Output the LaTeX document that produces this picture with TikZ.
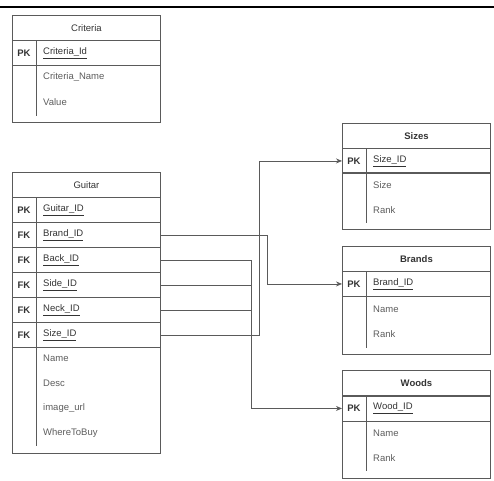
\documentclass[tikz,border=0pt]{standalone}
\usepackage{fontspec}
\setmainfont{Liberation Sans}
\usetikzlibrary{arrows.meta}
\definecolor{linegray}{HTML}{5A5A5A}
\definecolor{textgray}{HTML}{333333}
\definecolor{fieldgray}{HTML}{5C5C5C}

\begin{document}
\begin{tikzpicture}[x=1pt, y=-1pt, font=\fontsize{9.5}{11}\selectfont,
	tblhead/.style={draw=linegray, line width=.9pt, minimum width=148pt, minimum height=25pt, inner sep=0pt, anchor=north west, text=textgray},
	keyrow/.style={tblhead},
	tblbody/.style={draw=linegray, line width=.9pt, minimum width=148pt, inner sep=0pt, anchor=north west},
	keytext/.style={font=\fontsize{9.5}{11}\selectfont\bfseries, text=textgray, inner sep=0pt},
	keyname/.style={anchor=west, text=textgray, inner sep=0pt},
	field/.style={anchor=west, text=fieldgray, inner sep=0pt},
	fk/.style={draw=linegray, line width=.8pt},
	ref/.style={fk, -{Stealth[length=6pt,width=5pt]}}
	]
	\useasboundingbox (0,0) rectangle (494,480);
	%top rule
	\draw[line width=1.5pt] (0,7) -- (494,7);
	
	%Criteria
	\node[tblhead] (criteria-head) at (12,15) {Criteria};
	\node[keyrow] (criteria-pk) at (12,40) {};
	\node[tblbody, minimum height=57pt] (criteria-body) at (12,65) {};
	\node[keytext] at ([xshift=12pt]criteria-pk.west) {PK};
	\node[keyname] at ([xshift=31pt]criteria-pk.west) {\underline{Criteria\_Id}};
	\foreach \f [count=\i] in {Criteria\_Name,Value}
	\node[field] at (43,52+25*\i) {\f};
	\draw[linegray] ([xshift=24pt]criteria-pk.north west) -- ([xshift=24pt,yshift=7pt]criteria-body.south west);
	
	%Guitar
	\node[tblhead] (guitar-head) at (12,172) {Guitar};
	\node[keyrow] (guitar-pk) at (12,197) {};
	\node[keytext] at ([xshift=12pt]guitar-pk.west) {PK};
	\node[keyname] at ([xshift=31pt]guitar-pk.west) {\underline{Guitar\_ID}};
	\foreach \fk [count=\i] in {Brand,Back,Side,Neck,Size}{
		\node[keyrow] (guitar-\fk) at (12,197+25*\i) {};
		\node[keytext] at ([xshift=12pt]guitar-\fk.west) {FK};
		\node[keyname] at ([xshift=31pt]guitar-\fk.west) {\underline{\fk\_ID}};
	}
	\node[tblbody, minimum height=106pt] (guitar-body) at (12,347) {};
	\foreach \f [count=\i] in {Name,Desc,image\_url,WhereToBuy}
	\node[field] at (43,333+25*\i) {\f};
	\draw[linegray] ([xshift=24pt]guitar-pk.north west) -- ([xshift=24pt,yshift=8pt]guitar-body.south west);
	
	%Sizes
	\node[tblhead, font=\fontsize{9.5}{11}\selectfont\bfseries] (sizes-head) at (342,123) {Sizes};
	\node[keyrow] (sizes-pk) at (342,148) {};
	\node[tblbody, minimum height=57pt] (sizes-body) at (342,172) {};
	\node[keytext] at ([xshift=12pt]sizes-pk.west) {PK};
	\node[keyname] at ([xshift=31pt]sizes-pk.west) {\underline{Size\_ID}};
	\foreach \f [count=\i] in {Size,Rank}
	\node[field] at (373,160+25*\i) {\f};
	\draw[linegray] ([xshift=24pt]sizes-pk.north west) -- ([xshift=24pt,yshift=7pt]sizes-body.south west);
	
	%Brands
	\node[tblhead, font=\fontsize{9.5}{11}\selectfont\bfseries] (brands-head) at (342,246) {Brands};
	\node[keyrow] (brands-pk) at (342,271) {};
	\node[tblbody, minimum height=58pt] (brands-body) at (342,296) {};
	\node[keytext] at ([xshift=12pt]brands-pk.west) {PK};
	\node[keyname] at ([xshift=31pt]brands-pk.west) {\underline{Brand\_ID}};
	\foreach \f [count=\i] in {Name,Rank}
	\node[field] at (373,284+25*\i) {\f};
	\draw[linegray] ([xshift=24pt]brands-pk.north west) -- ([xshift=24pt,yshift=7pt]brands-body.south west);
	
	%Woods
	\node[tblhead, font=\fontsize{9.5}{11}\selectfont\bfseries] (woods-head) at (342,370) {Woods};
	\node[keyrow] (woods-pk) at (342,395.5) {};
	\node[tblbody, minimum height=57pt] (woods-body) at (342,420.5) {};
	\node[keytext] at ([xshift=12pt]woods-pk.west) {PK};
	\node[keyname] at ([xshift=31pt]woods-pk.west) {\underline{Wood\_ID}};
	\foreach \f [count=\i] in {Name,Rank}
	\node[field] at (373,408+25*\i) {\f};
	\draw[linegray] ([xshift=24pt]woods-pk.north west) -- ([xshift=24pt,yshift=7pt]woods-body.south west);
	
	%references
	\coordinate (woodbus) at (251,0);
	\coordinate (sizebend) at (259,0);
	\coordinate (brandbend) at (267,0);
	\draw[ref] (guitar-Brand.east) -- (guitar-Brand.east -| brandbend) |- (brands-pk.west);
	\draw[ref] (guitar-Back.east) -- (guitar-Back.east -| woodbus) |- (woods-pk.west);
	\draw[fk] (guitar-Side.east) -- (guitar-Side.east -| woodbus);
	\draw[fk] (guitar-Neck.east) -- (guitar-Neck.east -| woodbus);
	\draw[ref] (guitar-Size.east) -- (guitar-Size.east -| sizebend) |- (sizes-pk.west);
\end{tikzpicture}
\end{document}
